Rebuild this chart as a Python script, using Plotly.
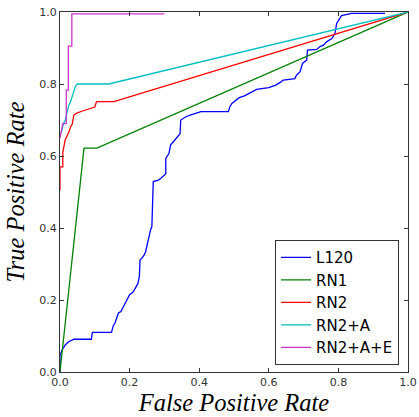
import plotly.graph_objects as go

# L120
l120_x = [0.0, 0.0, 0.006, 0.015, 0.025, 0.04, 0.09, 0.093, 0.148, 0.153, 0.158, 0.162, 0.168, 0.175,
          0.19, 0.195, 0.2, 0.21, 0.22, 0.224, 0.228, 0.23, 0.236, 0.242, 0.246, 0.25, 0.255, 0.26,
          0.264, 0.265, 0.268, 0.268, 0.283, 0.29, 0.304, 0.304, 0.313, 0.318, 0.327, 0.333, 0.345,
          0.347, 0.362, 0.376, 0.405, 0.484, 0.488, 0.494, 0.505, 0.515, 0.53, 0.545, 0.565, 0.6,
          0.62, 0.635, 0.642, 0.675, 0.68, 0.69, 0.697, 0.709, 0.711, 0.738, 0.747, 0.757, 0.766,
          0.781, 0.79, 0.795, 0.805, 0.809, 0.838, 0.934]
l120_y = [0.0, 0.047, 0.061, 0.075, 0.084, 0.091, 0.091, 0.11, 0.11, 0.128, 0.136, 0.15, 0.164, 0.168,
          0.195, 0.205, 0.215, 0.222, 0.237, 0.246, 0.265, 0.311, 0.317, 0.325, 0.334, 0.353, 0.371, 0.394,
          0.404, 0.431, 0.478, 0.529, 0.533, 0.538, 0.551, 0.593, 0.607, 0.631, 0.641, 0.649, 0.662,
          0.7, 0.709, 0.714, 0.723, 0.723, 0.737, 0.746, 0.755, 0.762, 0.767, 0.775, 0.785, 0.79,
          0.797, 0.806, 0.811, 0.815, 0.825, 0.834, 0.857, 0.867, 0.894, 0.896, 0.904, 0.908, 0.917,
          0.926, 0.94, 0.968, 0.982, 0.99, 0.996, 0.996]

# RN1
rn1_x = [0.0, 0.069, 0.106, 1.0]
rn1_y = [0.0, 0.622, 0.622, 1.0]

# RN2
rn2_x = [0.0, 0.0, 0.008, 0.008, 0.012, 0.015, 0.02, 0.025, 0.03, 0.035, 0.04, 0.05, 0.065, 0.08,
         0.1, 0.105, 0.155, 1.0]
rn2_y = [0.505, 0.57, 0.57, 0.61, 0.63, 0.645, 0.655, 0.665, 0.68, 0.688, 0.714, 0.72, 0.725, 0.73,
         0.736, 0.751, 0.751, 1.0]

# RN2+A
rn2a_x = [0.0, 0.005, 0.01, 0.015, 0.02, 0.025, 0.03, 0.035, 0.04, 0.045, 0.05, 0.14, 1.0]
rn2a_y = [0.66, 0.67, 0.69, 0.70, 0.72, 0.74, 0.75, 0.765, 0.783, 0.795, 0.80, 0.80, 1.0]

# RN2+A+E
rn2ae_x = [0.0, 0.008, 0.018, 0.018, 0.024, 0.024, 0.034, 0.034, 0.30]
rn2ae_y = [0.65, 0.69, 0.69, 0.783, 0.783, 0.905, 0.905, 0.995, 0.995]

series = [
    ("L120", l120_x, l120_y, "#0000ff"),
    ("RN1", rn1_x, rn1_y, "#008000"),
    ("RN2", rn2_x, rn2_y, "#ff0000"),
    ("RN2+A", rn2a_x, rn2a_y, "#00bfbf"),
    ("RN2+A+E", rn2ae_x, rn2ae_y, "#cc33cc"),
]

tick_vals = [0.0, 0.2, 0.4, 0.6, 0.8, 1.0]
tick_text = ["0.0", "0.2", "0.4", "0.6", "0.8", "1.0"]

fig = go.Figure()
for name, xs, ys, c in series:
    fig.add_trace(go.Scatter(x=xs, y=ys, mode="lines", name=name,
                             line=dict(color=c, width=1.3)))

axis_common = dict(
    range=[0, 1], tickvals=tick_vals, ticktext=tick_text,
    ticks="inside", ticklen=4, tickcolor="#333", mirror="ticks",
    showline=True, linecolor="#333", linewidth=1.3, showgrid=False, zeroline=False,
    automargin=False, ticklabeloverflow="allow",
    tickfont=dict(family="DejaVu Sans", size=11, color="#333"),
)

fig.update_layout(
    width=419, height=417,
    margin=dict(l=60, r=11, t=12, b=45),
    paper_bgcolor="white", plot_bgcolor="white",
    xaxis=dict(**axis_common,
               title=dict(text="<i>False Positive Rate</i>", standoff=5,
                          font=dict(family="Liberation Serif", size=24.5, color="black"))),
    yaxis=dict(**axis_common,
               title=dict(text="<i>True Positive Rate</i>", standoff=7,
                          font=dict(family="Liberation Serif", size=24.5, color="black"))),
    legend=dict(x=0.618, y=0.019, xanchor="left", yanchor="bottom",
                bordercolor="#333", borderwidth=1, bgcolor="white",
                font=dict(family="DejaVu Sans", size=15, color="black"),
                tracegroupgap=0),
    showlegend=True,
)

fig.write_html("out.html", config={"displayModeBar": False},
               post_script="document.body.style.margin='0';document.body.style.overflow='hidden';")
